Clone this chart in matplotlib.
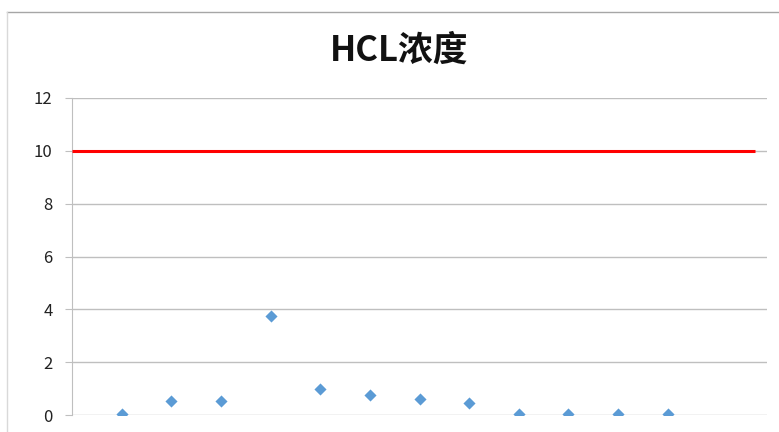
import matplotlib.pyplot as plt
from matplotlib.lines import Line2D

plt.rcParams['font.family'] = ['Noto Sans CJK SC', 'DejaVu Sans']

# sample number and HCL concentration
x = [1, 2, 3, 4, 5, 6, 7, 8, 9, 10, 11, 12]
hcl = [0.02, 0.53, 0.53, 3.75, 1.0, 0.75, 0.6, 0.45, 0.02, 0.02, 0.02, 0.02]

# limit line
limit_x = [0, 13.75]
limit_y = [10, 10]

yticks = [0, 2, 4, 6, 8, 10, 12]

fig = plt.figure(figsize=(7.79, 4.32), dpi=100)
ax = fig.add_axes([72 / 779, 1 - 415 / 432, 695 / 779, 317 / 432])

ax.plot(limit_x, limit_y, color='#ff0000', lw=2.2, zorder=3, solid_capstyle='butt')
ax.scatter(x, hcl, marker='D', s=38, color='#5b9bd5', zorder=4, linewidths=0)

ax.set_xlim(0, 14)
ax.set_ylim(0, 12)
ax.set_yticks(yticks)
ax.set_yticklabels([str(v) for v in yticks], fontsize=12, color='#222222')
ax.set_xticks([])
ax.grid(axis='y', color='#bfbfbf', lw=1)
ax.set_axisbelow(True)
for s in ['top', 'right', 'bottom']:
    ax.spines[s].set_visible(False)
ax.spines['left'].set_color('#bfbfbf')
ax.tick_params(axis='y', length=5, color='#bfbfbf', pad=9)

fig.text(399 / 779, 1 - 50 / 432, 'HCL浓度', ha='center', va='center',
         fontsize=25, fontweight='bold', color='#111111')

# outer chart frame (top and left edges visible)
fig.add_artist(Line2D([7 / 779, 1], [1 - 12 / 432, 1 - 12 / 432], color='#a6a6a6', lw=1))
fig.add_artist(Line2D([7 / 779, 7 / 779], [0, 1 - 12 / 432], color='#d9d9d9', lw=1))

fig.savefig('out.png', dpi=100)
